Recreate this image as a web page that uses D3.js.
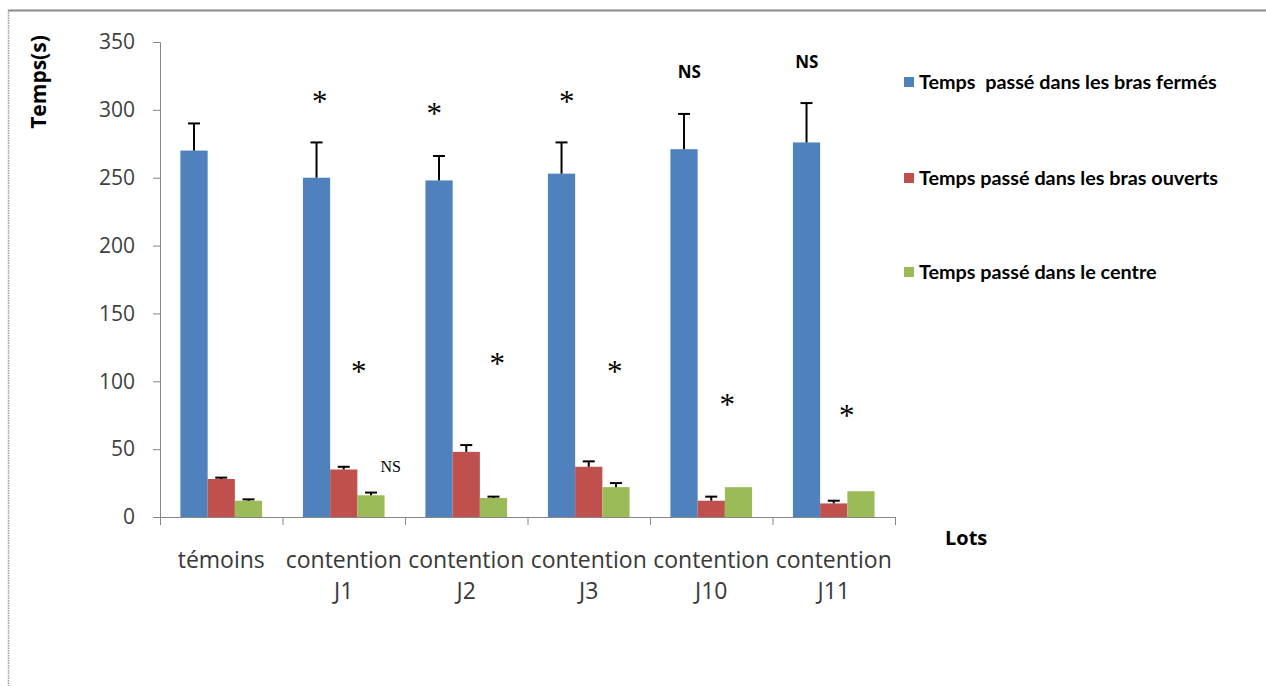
<!DOCTYPE html>
<html>
<head>
<meta charset="utf-8">
<script src="https://cdn.jsdelivr.net/npm/d3@7"></script>
<style>
  body { margin: 0; background: #fff; }
  svg { display: block; }
  text { font-family: Lato, "Open Sans", sans-serif; }
</style>
</head>
<body>
<svg id="chart" width="1266" height="686"></svg>
<script>
// Groups (lots) and their two-line labels
const lots = ["témoins", "contention J1", "contention J2", "contention J3", "contention J10", "contention J11"];
const lotLines = [["témoins"], ["contention", "J1"], ["contention", "J2"], ["contention", "J3"], ["contention", "J10"], ["contention", "J11"]];

// Series names and colours
const seriesNames = [
  "Temps  passé dans les bras fermés",
  "Temps passé dans les bras ouverts",
  "Temps passé dans le centre"
];
const seriesColors = ["#4F81BD", "#C0504D", "#9BBB59"];

// Mean time (s) per lot
const fermes  = [270, 250, 248, 253, 271, 276];
const ouverts = [28, 35, 48, 37, 12, 10];
const centre  = [12, 16, 14, 22, 22, 19];

// Upper end of each error bar (mean + SEM); null = no bar drawn
const fermesErr  = [290, 276, 266, 276, 297, 305];
const ouvertsErr = [29, 37, 53, 41, 15, 12];
const centreErr  = [13, 18, 15, 25, null, null];

// Significance marks: [lot index, text, style]
const marks = [
  [1, "*", "star"], [2, "*", "star"], [3, "*", "star"],
  [4, "NS", "bold"], [5, "NS", "bold"],
  [1, "*", "star"], [2, "*", "star"], [3, "*", "star"],
  [4, "*", "star"], [5, "*", "star"],
  [1, "NS", "serif"]
];
// Height (in seconds) at which each mark is centred
const markLevels = [309.5, 300, 309, 328, 335, 110, 116, 110, 86, 77.5, 37.5];

const yTicks = [0, 50, 100, 150, 200, 250, 300, 350];

const series = [fermes, ouverts, centre];
const seriesErr = [fermesErr, ouvertsErr, centreErr];

// Horizontal placement of each mark, in pixels from its lot's centre
const markDx = [-24, -32, -22, -22, -27, 15, 31, 26, 16, 13, 47];

const svg = d3.select("#chart");
const plotLeft = 160, plotRight = 895, plotTop = 42, plotBottom = 517;

// Outer frame
svg.append("line").attr("x1", 8).attr("x2", 1266).attr("y1", 10.5).attr("y2", 10.5)
  .attr("stroke", "#8a8a8a").attr("stroke-width", 2);
svg.append("line").attr("x1", 8.5).attr("x2", 8.5).attr("y1", 10).attr("y2", 686)
  .attr("stroke", "#9a9a9a").attr("stroke-width", 1.5).attr("stroke-dasharray", "1.5,1");

const x = d3.scaleBand().domain(lots).range([plotLeft, plotRight]).paddingInner(0).paddingOuter(0);
const y = d3.scaleLinear().domain([0, 350]).range([plotBottom, plotTop]);
const barW = x.bandwidth() / 4.5;
const xs = d3.scaleBand().domain([0, 1, 2]).range([0, barW * 3]);

// Y axis
const yAxis = svg.append("g").attr("transform", `translate(${plotLeft},0)`)
  .call(d3.axisLeft(y).tickValues(yTicks).tickSize(7).tickPadding(18).tickFormat(d3.format("d")));
yAxis.select(".domain").attr("stroke", "#868686");
yAxis.selectAll(".tick line").attr("stroke", "#868686");
yAxis.selectAll(".tick text").attr("fill", "#404040").style("font-size", "21px")
  .style("font-family", "'Open Sans', sans-serif");

// X axis with ticks on the group boundaries
const xAxisG = svg.append("g").attr("transform", `translate(0,${plotBottom})`);
xAxisG.append("line").attr("x1", plotLeft).attr("x2", plotRight).attr("y1", 0.5).attr("y2", 0.5)
  .attr("stroke", "#868686");
const bounds = lots.map(l => x(l)).concat([plotRight]);
xAxisG.selectAll(".bt").data(bounds).join("line")
  .attr("x1", d => d + 0.5).attr("x2", d => d + 0.5).attr("y1", 0).attr("y2", 8)
  .attr("stroke", "#868686");

// Category labels
lots.forEach((l, i) => {
  const cx = x(l) + x.bandwidth() / 2;
  const t = svg.append("text").attr("x", cx).attr("y", 568)
    .attr("text-anchor", "middle").attr("fill", "#383838")
    .style("font-size", "23px").style("font-family", "'Open Sans', sans-serif");
  lotLines[i].forEach((ln, k) => {
    t.append("tspan").attr("x", cx).attr("dy", k === 0 ? 0 : 31).text(ln);
  });
});

// Bars
series.forEach((vals, s) => {
  svg.append("g").selectAll("rect").data(vals).join("rect")
    .attr("x", (d, i) => x(lots[i]) + barW * 0.75 + xs(s))
    .attr("y", d => y(d))
    .attr("width", xs.bandwidth())
    .attr("height", d => y(0) - y(d))
    .attr("fill", seriesColors[s]);
});

// Error bars
seriesErr.forEach((errs, s) => {
  const g = svg.append("g").attr("stroke", "#000").attr("stroke-width", 2);
  errs.forEach((e, i) => {
    if (e === null) return;
    const cx = x(lots[i]) + barW * 0.75 + xs(s) + xs.bandwidth() / 2;
    g.append("line").attr("x1", cx).attr("x2", cx).attr("y1", y(series[s][i])).attr("y2", y(e));
    g.append("line").attr("x1", cx - 6).attr("x2", cx + 6).attr("y1", y(e)).attr("y2", y(e));
  });
});

// Significance marks
marks.forEach((m, k) => {
  const [li, txt, style] = m;
  const cx = x(lots[li]) + x.bandwidth() / 2 + markDx[k];
  const t = svg.append("text").attr("x", cx).attr("y", y(markLevels[k]))
    .attr("text-anchor", "middle").attr("fill", "#000").text(txt);
  if (style === "star") {
    t.style("font-family", "'Liberation Serif', serif").style("font-size", "31px").attr("dy", "0.47em");
  } else if (style === "bold") {
    t.style("font-family", "'Open Sans', sans-serif").style("font-weight", "bold").style("font-size", "17px").attr("dy", "0.35em");
  } else {
    t.style("font-family", "'Liberation Serif', serif").style("font-size", "16px").attr("dy", "0.35em");
  }
});

// Axis titles
svg.append("text").attr("transform", "translate(46,82) rotate(-90)").attr("text-anchor", "middle")
  .style("font-size", "21px").style("font-weight", "bold").style("font-family", "'Open Sans', sans-serif")
  .attr("fill", "#000").text("Temps(s)");
svg.append("text").attr("x", 945).attr("y", 545)
  .style("font-size", "20px").style("font-weight", "bold").style("font-family", "'Open Sans', sans-serif")
  .attr("fill", "#000").text("Lots");

// Legend
const legendY = [82, 178, 272];
seriesNames.forEach((n, s) => {
  svg.append("rect").attr("x", 904).attr("y", legendY[s] - 5).attr("width", 10).attr("height", 10)
    .attr("fill", seriesColors[s]);
  svg.append("text").attr("x", 919).attr("y", legendY[s]).attr("dy", "0.35em")
    .style("font-size", "19.8px").style("font-weight", "bold").attr("fill", "#000")
    .style("white-space", "pre").text(n);
});
</script>
</body>
</html>
